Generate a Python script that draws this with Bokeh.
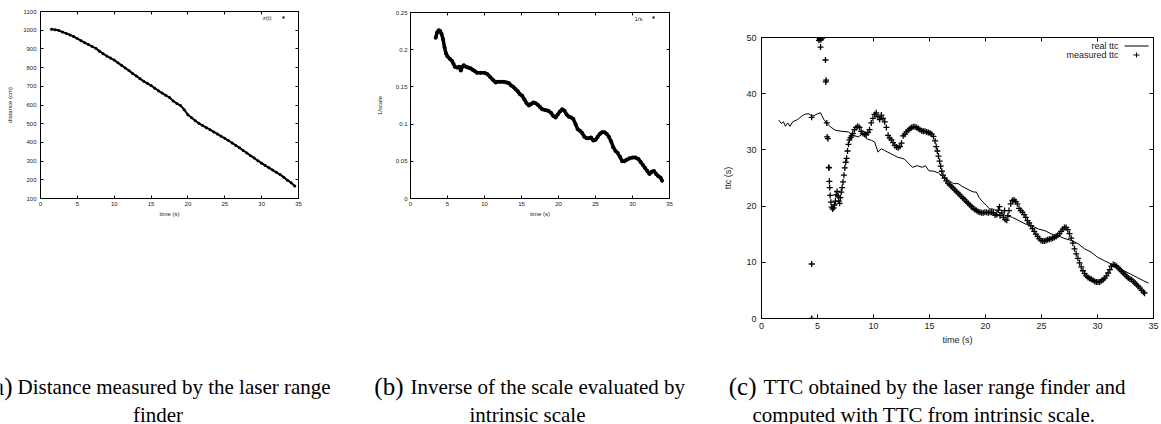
from bokeh.plotting import figure
from bokeh.layouts import row, column
from bokeh.models import Range1d, FixedTicker, LinearAxis, Label, BoxAnnotation, Spacer
from bokeh.embed import file_html
from bokeh.resources import INLINE

SANS = "Liberation Sans"
SERIF = "Liberation Serif"

# ---------------- data ----------------
x_ticks = [0, 5, 10, 15, 20, 25, 30, 35]

# (a) distance measured by the laser range finder, z(t)
dist_pts = [(1.5, 1005), (2.0, 1003), (2.5, 998), (3.0, 990), (3.5, 983), (4.0, 975),
            (4.5, 966), (5.0, 955), (5.5, 944), (6.0, 933), (6.5, 923), (7.0, 913),
            (7.5, 903), (8.0, 888), (8.5, 874), (9.0, 862), (9.5, 851), (10.0, 840),
            (10.5, 826), (11.0, 812), (11.5, 798), (12.0, 784), (12.5, 769), (13.0, 755),
            (13.5, 741), (14.0, 727), (14.5, 716), (15.0, 704), (15.5, 690), (16.0, 676),
            (16.5, 664), (17.0, 652), (17.5, 640), (18.0, 622), (18.5, 608), (19.0, 597),
            (19.5, 575), (20.0, 548), (20.5, 532), (21.0, 516), (21.5, 502), (22.0, 490),
            (22.5, 479), (23.0, 468), (23.5, 456), (24.0, 445), (24.5, 433), (25.0, 422),
            (25.5, 410), (26.0, 397), (26.5, 384), (27.0, 371), (27.5, 357), (28.0, 343),
            (28.5, 329), (29.0, 316), (29.5, 302), (30.0, 289), (30.5, 276), (31.0, 264),
            (31.5, 252), (32.0, 240), (32.5, 228), (33.0, 214), (33.5, 198), (34.0, 184),
            (34.5, 167)]
y_ticks_a = [100, 200, 300, 400, 500, 600, 700, 800, 900, 1000, 1100]

# (b) inverse of the scale, 1/s
inv_pts = [(3.4, 0.216), (3.6, 0.223), (3.8, 0.226), (4.0, 0.225), (4.2, 0.221), (4.4, 0.214),
           (4.6, 0.203), (4.8, 0.195), (5.0, 0.191), (5.3, 0.188), (5.6, 0.185), (5.8, 0.181),
           (6.0, 0.177), (6.3, 0.176), (6.6, 0.177), (6.8, 0.172), (7.0, 0.177), (7.2, 0.179),
           (7.5, 0.177), (7.8, 0.176), (8.1, 0.175), (8.4, 0.173), (8.7, 0.171), (9.0, 0.169),
           (9.5, 0.169), (10.0, 0.169), (10.4, 0.167), (10.8, 0.163), (11.2, 0.159), (11.5, 0.156),
           (11.8, 0.157), (12.2, 0.157), (12.6, 0.157), (13.0, 0.156), (13.3, 0.155), (13.6, 0.152),
           (13.9, 0.150), (14.2, 0.147), (14.5, 0.144), (14.8, 0.140), (15.1, 0.138), (15.4, 0.133),
           (15.7, 0.128), (16.0, 0.125), (16.3, 0.127), (16.6, 0.129), (16.9, 0.128), (17.2, 0.126),
           (17.5, 0.123), (17.8, 0.120), (18.2, 0.119), (18.6, 0.118), (19.0, 0.115), (19.3, 0.111),
           (19.6, 0.109), (19.9, 0.113), (20.2, 0.117), (20.5, 0.120), (20.8, 0.118), (21.1, 0.113),
           (21.4, 0.110), (21.7, 0.109), (22.0, 0.107), (22.3, 0.100), (22.6, 0.093), (22.9, 0.091),
           (23.2, 0.088), (23.5, 0.083), (23.8, 0.081), (24.1, 0.081), (24.4, 0.082), (24.7, 0.078),
           (25.0, 0.079), (25.3, 0.083), (25.6, 0.087), (25.9, 0.089), (26.2, 0.089), (26.5, 0.087),
           (26.8, 0.083), (27.1, 0.077), (27.4, 0.069), (27.7, 0.064), (28.0, 0.061), (28.3, 0.056),
           (28.6, 0.050), (28.9, 0.050), (29.2, 0.052), (29.6, 0.054), (30.0, 0.055), (30.4, 0.055),
           (30.8, 0.053), (31.1, 0.049), (31.4, 0.045), (31.7, 0.041), (32.0, 0.037), (32.3, 0.033),
           (32.6, 0.036), (32.9, 0.037), (33.2, 0.033), (33.5, 0.030), (33.8, 0.028), (34.0, 0.024)]
y_ticks_b = [0, 0.05, 0.1, 0.15, 0.2, 0.25]
y_tick_labels_b = ["0", "0.05", "0.1", "0.15", "0.2", "0.25"]

# (c) real ttc (line) and measured ttc (crosses)
real_pts = [(1.55, 35.3), (1.76, 34.7), (1.96, 35.0), (2.14, 34.2), (2.34, 34.8), (2.55, 34.2),
            (2.78, 35.0), (3.22, 35.4), (3.66, 36.1), (3.95, 36.4), (4.25, 36.4), (4.48, 36.0),
            (4.69, 36.1), (4.98, 36.4), (5.27, 36.6), (5.57, 35.4), (5.86, 34.7), (6.15, 34.1),
            (6.59, 33.5), (7.18, 33.3), (7.76, 33.2), (8.2, 32.6), (8.64, 32.3), (9.08, 32.9),
            (9.37, 32.0), (9.81, 31.7), (10.1, 31.4), (10.4, 29.6), (10.69, 30.2), (10.98, 29.9),
            (11.57, 29.3), (12.15, 28.7), (12.74, 28.4), (13.18, 27.5), (13.47, 26.9), (13.9, 27.2),
            (14.35, 26.9), (14.64, 27.2), (14.94, 26.3), (15.38, 26.2), (15.8, 25.9), (16.26, 25.1),
            (16.7, 24.6), (17.14, 24.0), (17.57, 24.0), (18.0, 23.4), (18.6, 22.8), (18.95, 22.5),
            (19.19, 22.5), (19.4, 21.6), (19.77, 20.7), (20.1, 20.1), (20.35, 19.5), (20.65, 19.5),
            (21.24, 18.9), (21.82, 18.3), (22.4, 18.0), (22.99, 17.4), (23.58, 16.8), (24.17, 16.5),
            (24.75, 15.9), (25.34, 15.6), (25.92, 15.0), (26.5, 14.7), (27.1, 14.2), (27.68, 13.9),
            (28.27, 13.3), (28.85, 12.4), (29.44, 11.8), (30.0, 10.9), (30.6, 10.3), (31.2, 9.7),
            (31.78, 9.1), (32.37, 8.5), (32.95, 7.9), (33.54, 7.3), (34.12, 6.7), (34.56, 6.3)]

meas_pts = [(4.48, 0.0), (4.48, 9.7), (4.48, 35.8), (5.13, 49.5), (5.2, 49.8), (5.27, 48.3),
            (5.3, 49.6), (5.42, 49.9), (5.71, 46.0), (5.74, 42.1), (5.77, 42.4), (5.83, 34.8),
            (5.86, 32.3), (5.93, 32.0), (6.0, 26.9), (6.03, 26.8), (6.06, 24.4), (6.09, 23.3),
            (6.13, 21.9), (6.2, 20.7), (6.27, 19.8), (6.35, 19.5), (6.44, 19.7), (6.52, 20.2),
            (6.6, 20.9), (6.67, 22.0), (6.75, 22.6), (6.83, 21.8), (6.9, 20.9), (6.98, 20.5),
            (7.05, 21.5), (7.12, 22.5), (7.2, 23.3), (7.28, 24.3), (7.36, 25.5), (7.44, 26.8),
            (7.52, 27.8), (7.6, 28.5), (7.68, 29.8), (7.76, 31.0), (7.85, 31.8), (7.95, 32.2),
            (8.05, 32.5), (8.15, 32.9), (8.3, 33.6), (8.45, 34.0), (8.6, 34.2), (8.75, 34.0),
            (8.9, 33.3), (9.05, 32.9), (9.2, 32.8), (9.35, 32.7), (9.5, 33.1), (9.65, 33.6),
            (9.8, 34.8), (9.95, 35.6), (10.1, 36.3), (10.25, 36.6), (10.4, 35.9), (10.55, 35.4),
            (10.7, 36.2), (10.85, 35.6), (11.0, 35.0), (11.15, 34.0), (11.3, 32.6), (11.45, 32.1),
            (11.6, 31.8), (11.75, 31.3), (11.9, 30.8), (12.05, 30.5), (12.2, 30.4), (12.35, 30.6),
            (12.5, 31.2), (12.65, 32.5), (12.8, 32.8), (12.95, 33.2), (13.1, 33.5), (13.25, 33.8),
            (13.4, 34.0), (13.55, 34.1), (13.7, 34.1), (13.85, 34.0), (14.0, 33.8), (14.15, 33.6),
            (14.3, 33.4), (14.45, 33.3), (14.6, 33.3), (14.75, 33.2), (14.9, 33.1), (15.05, 33.0),
            (15.2, 32.8), (15.35, 32.4), (15.5, 31.6), (15.6, 30.6), (15.7, 29.8), (15.8, 28.9),
            (15.9, 28.0), (16.0, 27.1), (16.1, 26.2), (16.2, 25.5), (16.35, 25.0), (16.5, 24.5),
            (16.65, 24.1), (16.8, 23.8), (16.95, 23.5), (17.1, 23.2), (17.25, 22.9), (17.4, 22.6),
            (17.55, 22.3), (17.7, 22.0), (17.85, 21.7), (18.0, 21.4), (18.15, 21.1), (18.3, 20.8),
            (18.45, 20.5), (18.6, 20.2), (18.75, 19.9), (18.9, 19.6), (19.05, 19.4), (19.2, 19.2),
            (19.35, 19.0), (19.5, 18.9), (19.65, 18.8), (19.8, 18.8), (19.95, 18.9), (20.1, 18.9),
            (20.25, 18.8), (20.4, 18.9), (20.55, 18.9), (20.7, 18.8), (20.85, 18.4), (21.0, 18.5),
            (21.15, 19.3), (21.25, 19.9), (21.3, 18.3), (21.45, 18.8), (21.6, 18.0), (21.7, 19.2),
            (21.75, 17.6), (21.9, 17.5), (22.0, 18.3), (22.1, 19.2), (22.25, 20.4), (22.4, 21.0),
            (22.55, 21.1), (22.7, 20.8), (22.85, 20.4), (23.0, 19.6), (23.15, 19.2), (23.3, 18.9),
            (23.45, 18.5), (23.6, 18.0), (23.75, 17.4), (23.9, 17.0), (24.05, 16.5), (24.2, 16.0),
            (24.35, 15.5), (24.5, 15.0), (24.65, 14.6), (24.8, 14.2), (24.95, 13.9), (25.1, 13.8),
            (25.25, 13.8), (25.4, 13.9), (25.55, 14.0), (25.7, 14.1), (25.85, 14.2), (26.0, 14.3),
            (26.15, 14.4), (26.3, 14.6), (26.45, 14.8), (26.6, 15.1), (26.75, 15.5), (26.9, 15.9),
            (27.05, 16.2), (27.2, 16.2), (27.35, 15.8), (27.5, 15.1), (27.65, 14.3), (27.8, 13.4),
            (27.95, 12.4), (28.1, 11.5), (28.25, 10.7), (28.4, 9.9), (28.55, 9.2), (28.7, 8.5),
            (28.85, 8.0), (29.0, 7.6), (29.15, 7.3), (29.3, 7.1), (29.45, 7.0), (29.6, 6.8),
            (29.75, 6.6), (29.9, 6.5), (30.05, 6.5), (30.2, 6.5), (30.35, 6.7), (30.5, 6.9),
            (30.65, 7.2), (30.8, 7.6), (30.95, 8.1), (31.1, 8.7), (31.25, 9.3), (31.4, 9.6),
            (31.55, 9.5), (31.7, 9.3), (31.85, 9.0), (32.0, 8.7), (32.15, 8.4), (32.3, 8.1),
            (32.45, 7.8), (32.6, 7.5), (32.75, 7.2), (32.9, 7.0), (33.05, 6.9), (33.2, 6.6),
            (33.35, 6.3), (33.5, 6.0), (33.65, 5.7), (33.8, 5.4), (33.95, 5.0), (34.1, 4.7),
            (34.2, 4.5)]
y_ticks_c = [0, 10, 20, 30, 40, 50]

captions = {
    "a": ("(a)", "Distance measured by the laser range", "finder"),
    "b": ("(b)", "Inverse of the scale evaluated by", "intrinsic scale"),
    "c": ("(c)", "TTC obtained by the laser range finder and", "computed with TTC from intrinsic scale."),
}


def xs(pts):
    return [p[0] for p in pts]


def ys(pts):
    return [p[1] for p in pts]


# ---------------- helpers ----------------
def panel(width, height, borders, yr, yticks, ylabels, font_px, tick_len,
          ylab, x_std, x_lstd, y_std, y_lstd):
    bl, br, bt, bb = borders
    p = figure(width=width, height=height, x_range=Range1d(0, 35), y_range=Range1d(*yr),
               output_backend="svg", toolbar_location=None,
               min_border_left=bl, min_border_right=br, min_border_top=bt, min_border_bottom=bb,
               background_fill_color="white", border_fill_color="white")
    p.grid.visible = False
    p.outline_line_color = "black"
    p.outline_line_width = 1
    fs = f"{font_px}px"
    p.xaxis.ticker = FixedTicker(ticks=x_ticks)
    p.yaxis.ticker = FixedTicker(ticks=yticks)
    if ylabels is not None:
        p.yaxis.major_label_overrides = dict(zip(yticks, ylabels))
    for ax in (p.xaxis[0], p.yaxis[0]):
        ax.major_tick_in = tick_len
        ax.major_tick_out = 0
        ax.minor_tick_line_color = None
        ax.axis_line_color = "black"
        ax.major_tick_line_color = "black"
        ax.major_label_text_font = SANS
        ax.major_label_text_font_size = fs
        ax.major_label_text_color = "#222222"
        ax.axis_label_text_font = SANS
        ax.axis_label_text_font_size = fs
        ax.axis_label_text_font_style = "normal"
        ax.axis_label_text_color = "#222222"
    p.xaxis.axis_label = "time (s)"
    p.yaxis.axis_label = ylab
    p.xaxis.major_label_standoff = x_std
    p.xaxis.axis_label_standoff = x_lstd
    p.yaxis.major_label_standoff = y_std
    p.yaxis.axis_label_standoff = y_lstd
    # mirrored ticks on top and right (no labels drawn)
    for loc, ticks in (("above", x_ticks), ("right", yticks)):
        ax = LinearAxis(ticker=FixedTicker(ticks=ticks), major_tick_in=tick_len, major_tick_out=0,
                        minor_tick_line_color=None, major_label_text_font_size="1px",
                        major_label_text_color=None, major_label_standoff=0,
                        axis_line_color="black", major_tick_line_color="black")
        p.add_layout(ax, loc)
    return p


def legend_text(p, x, y, text, font_px):
    p.add_layout(Label(x=x, y=y, x_units="screen", y_units="screen", text=text,
                       text_font=SANS, text_font_size=f"{font_px}px", text_color="#222222",
                       text_align="right", text_baseline="middle"))


def sample_box(p, left, right, bottom, top):
    p.add_layout(BoxAnnotation(left=left, right=right, bottom=bottom, top=top,
                               left_units="screen", right_units="screen",
                               bottom_units="screen", top_units="screen",
                               fill_color="black", fill_alpha=1.0, line_color=None))


# ---------------- panel (a) ----------------
pa = panel(360, 230, (40, 62, 11, 32), (100, 1100), y_ticks_a, None, 6, 3,
           "distance (cm)", 3, 2, 4, 7)
pa.line(xs(dist_pts), ys(dist_pts), line_color="black", line_width=2)
pa.scatter(xs(dist_pts), ys(dist_pts), marker="circle", size=3,
           fill_color="black", line_color=None)
legend_text(pa, 231, 181, "z(t)", 6)
sample_box(pa, 242, 244, 180, 182)

# ---------------- panel (b) ----------------
pb = panel(360, 230, (50, 51, 12, 32), (0, 0.25), y_ticks_b, y_tick_labels_b, 6, 3,
           "1/scale", 3, 2, 3, 10)
pb.line(xs(inv_pts), ys(inv_pts), line_color="black", line_width=3.5)
pb.scatter(xs(inv_pts), ys(inv_pts), marker="circle", size=4,
           fill_color="black", line_color=None)
legend_text(pb, 232, 180, "1/s", 6)
sample_box(pb, 242, 244, 180, 182)

# ---------------- panel (c) ----------------
pc = panel(441, 324, (35, 8, 11, 32), (0, 50), y_ticks_c, None, 9, 4,
           "ttc (s)", 4, 3, 5, 10)
pc.line(xs(real_pts), ys(real_pts), line_color="black", line_width=1)
pc.scatter(xs(meas_pts), ys(meas_pts), marker="cross", size=6,
           line_color="black", line_width=1.3)
legend_text(pc, 357, 273, "real ttc", 9)
legend_text(pc, 357, 264, "measured ttc", 9)
sample_box(pc, 363, 387, 272, 273)
sample_box(pc, 372, 378, 263, 264)
sample_box(pc, 374.5, 375.5, 261, 266)

# ---------------- captions ----------------
cap = figure(width=1161, height=74, x_range=Range1d(0, 1), y_range=Range1d(0, 1),
             output_backend="svg", toolbar_location=None,
             min_border_left=0, min_border_right=0, min_border_top=0, min_border_bottom=0,
             x_axis_location=None, y_axis_location=None, outline_line_color=None)
cap.grid.visible = False


def cap_label(x, y, text, size, align):
    cap.add_layout(Label(x=x, y=y, x_units="screen", y_units="screen", text=text,
                         text_font=SERIF, text_font_size=f"{size}px", text_color="black",
                         text_align=align, text_baseline="alphabetic"))


# line 1 (tag + text), line 2 centred
for key, (lx, tx, cx) in {"a": (12, 17, 157.5), "b": (403, 410, 527), "c": (756, 763, 923.5)}.items():
    tag, l1, l2 = captions[key]
    cap_label(lx, 38, tag, 25, "right")
    cap_label(tx, 38, l1, 21, "left")
    cap_label(cx, 10, l2, 21, "center")

layout = column(row(column(pa), column(pb), column(Spacer(width=441, height=26), pc)), cap)
open("out.html", "w").write(file_html(layout, INLINE))
